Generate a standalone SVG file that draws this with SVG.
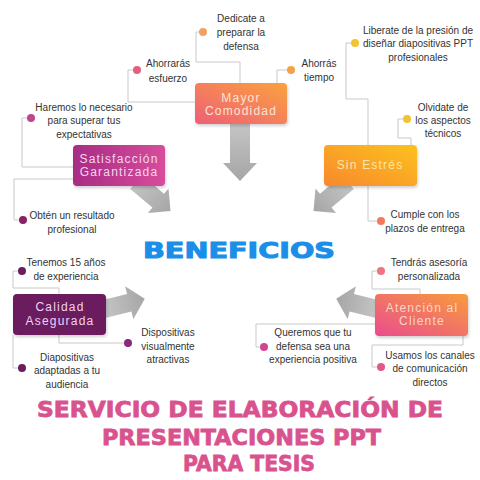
<svg xmlns="http://www.w3.org/2000/svg" width="480" height="480" viewBox="0 0 480 480">
<defs>
<linearGradient id="gMayor" x1="0" y1="1" x2="1" y2="0"><stop offset="0" stop-color="#ef5f78"/><stop offset="1" stop-color="#f9a23e"/></linearGradient>
<linearGradient id="gSat" x1="0" y1="0" x2="1" y2="0"><stop offset="0" stop-color="#a72c85"/><stop offset="1" stop-color="#d84c9c"/></linearGradient>
<linearGradient id="gSin" x1="0" y1="1" x2="1" y2="0"><stop offset="0" stop-color="#f8882e"/><stop offset="1" stop-color="#fcc21e"/></linearGradient>
<linearGradient id="gAte" x1="0" y1="1" x2="1" y2="0"><stop offset="0" stop-color="#ea4c8e"/><stop offset="1" stop-color="#f89c3c"/></linearGradient>
<linearGradient id="gArrow" x1="0" y1="0" x2="1" y2="0"><stop offset="0" stop-color="#c4c4c4"/><stop offset="1" stop-color="#a6a6a6"/></linearGradient>
<filter id="sh" x="-10%" y="-10%" width="130%" height="140%"><feDropShadow dx="1" dy="2" stdDeviation="1.5" flood-color="#000" flood-opacity="0.18"/></filter>
</defs>
<style>
.leaf{font-family:"Liberation Sans",Arial,sans-serif;font-size:10px;fill:#333;text-anchor:middle}
.lbl{font-family:"Liberation Sans",Arial,sans-serif;font-size:12px;text-anchor:middle;letter-spacing:1.2px}
.ln{fill:none;stroke:#c9c9c9;stroke-width:1}
.arrow{fill:url(#gArrow)}
</style>
<rect width="480" height="480" fill="#ffffff"/>

<g id="connectors">
<path class="ln" d="M199,32 H196 V62 H240 V83"/>
<path class="ln" d="M133,70 H128 V102 H195"/>
<path class="ln" d="M288,70 H277 V83"/>
<path class="ln" d="M27,118 H22 V167 H73"/>
<path class="ln" d="M73,179 H14 V220 H19"/>
<path class="ln" d="M351,43 H346 V99 H368 V145"/>
<path class="ln" d="M403,119 H398 V138 H411 V145"/>
<path class="ln" d="M368,186 V221 H377"/>
<path class="ln" d="M18,271 H13 V288 H59 V294"/>
<path class="ln" d="M59,335 V343 H124"/>
<path class="ln" d="M13,335 V368 H18"/>
<path class="ln" d="M377,271 H372 V289 H420 V294"/>
<path class="ln" d="M375,324 H256 V347 H260"/>
<path class="ln" d="M463,336 V345 H372 V367 H377"/>
</g>

<g id="arrows">
<polygon class="arrow" points="0,-10 39,-10 39,-17 57,0 39,17 39,10 0,10" transform="translate(240,124) rotate(90)"/>
<polygon class="arrow" points="0,-9 29,-9 29,-16 45,0 29,16 29,9 0,9" transform="translate(136,182) rotate(40)"/>
<polygon class="arrow" points="0,-9 29,-9 29,-16 45,0 29,16 29,9 0,9" transform="translate(348,182) rotate(140)"/>
<polygon class="arrow" points="0,-9 26,-9 26,-17 42,0 26,17 26,9 0,9" transform="translate(104,309) rotate(-14)"/>
<polygon class="arrow" points="0,-9 26,-9 26,-17 42,0 26,17 26,9 0,9" transform="translate(377,309) rotate(-166)"/>
</g>

<g id="mayor-comodidad">
<rect x="195" y="83" width="92" height="41" rx="4" fill="url(#gMayor)" filter="url(#sh)"/>
<text class="lbl" fill="#fde3d3"><tspan x="241" y="101.5">Mayor</tspan><tspan x="241" y="114.5">Comodidad</tspan></text>
</g>
<g id="satisfaccion">
<rect x="73" y="145" width="92" height="41" rx="4" fill="url(#gSat)" filter="url(#sh)"/>
<text class="lbl" fill="#f8d4ee"><tspan x="119" y="163">Satisfacción</tspan><tspan x="119" y="176">Garantizada</tspan></text>
</g>
<g id="sin-estres">
<rect x="324" y="145" width="93" height="41" rx="4" fill="url(#gSin)" filter="url(#sh)"/>
<text class="lbl" fill="#fde6a8" x="370" y="169">Sin Estrés</text>
</g>
<g id="calidad">
<rect x="13" y="294" width="93" height="41" rx="4" fill="#6b1b5f" filter="url(#sh)"/>
<text class="lbl" fill="#f2d2f0"><tspan x="60" y="311">Calidad</tspan><tspan x="60" y="325">Asegurada</tspan></text>
</g>
<g id="atencion">
<rect x="375" y="294" width="93" height="42" rx="4" fill="url(#gAte)" filter="url(#sh)"/>
<text class="lbl" fill="#fcd4c4"><tspan x="422" y="312">Atención al</tspan><tspan x="422" y="325">Cliente</tspan></text>
</g>

<g id="leaf-dedicate">
<circle cx="203" cy="32" r="4" fill="#f0a062"/>
<text class="leaf"><tspan x="241" y="22">Dedicate a</tspan><tspan x="241" y="36">preparar la</tspan><tspan x="241" y="50">defensa</tspan></text>
</g>
<g id="leaf-ahorraras">
<circle cx="137" cy="70" r="4" fill="#e2607e"/>
<text class="leaf"><tspan x="168" y="67">Ahorrarás</tspan><tspan x="168" y="82">esfuerzo</tspan></text>
</g>
<g id="leaf-ahorras">
<circle cx="291" cy="70" r="4" fill="#f5a04a"/>
<text class="leaf"><tspan x="319" y="67">Ahorrás</tspan><tspan x="319" y="81">tiempo</tspan></text>
</g>
<g id="leaf-haremos">
<circle cx="31" cy="118" r="4" fill="#c2438e"/>
<text class="leaf"><tspan x="84" y="111">Haremos lo necesario</tspan><tspan x="84" y="124">para superar tus</tspan><tspan x="84" y="138">expectativas</tspan></text>
</g>
<g id="leaf-obten">
<circle cx="23" cy="220" r="4" fill="#8a2262"/>
<text class="leaf"><tspan x="72" y="219">Obtén un resultado</tspan><tspan x="72" y="233">profesional</tspan></text>
</g>
<g id="leaf-liberate">
<circle cx="355" cy="43" r="4" fill="#f2c232"/>
<text class="leaf"><tspan x="418" y="34">Liberate de la presión de</tspan><tspan x="418" y="47">diseñar diapositivas PPT</tspan><tspan x="418" y="61">profesionales</tspan></text>
</g>
<g id="leaf-olvidate">
<circle cx="407" cy="119" r="4" fill="#f2c232"/>
<text class="leaf"><tspan x="443" y="111">Olvidate de</tspan><tspan x="443" y="124">los aspectos</tspan><tspan x="443" y="137">técnicos</tspan></text>
</g>
<g id="leaf-cumple">
<circle cx="381" cy="221" r="4" fill="#f07a5a"/>
<text class="leaf"><tspan x="425" y="218">Cumple con los</tspan><tspan x="425" y="232">plazos de entrega</tspan></text>
</g>
<g id="leaf-tenemos">
<circle cx="22" cy="271" r="4" fill="#6b1b5f"/>
<text class="leaf"><tspan x="66" y="266">Tenemos 15 años</tspan><tspan x="66" y="280">de experiencia</tspan></text>
</g>
<g id="leaf-dispositivas">
<circle cx="128" cy="343" r="4" fill="#8a2a7a"/>
<text class="leaf"><tspan x="168" y="336">Dispositivas</tspan><tspan x="168" y="350">visualmente</tspan><tspan x="168" y="363">atractivas</tspan></text>
</g>
<g id="leaf-diapositivas">
<circle cx="22" cy="368" r="4" fill="#6b1b5f"/>
<text class="leaf"><tspan x="67" y="361">Diapositivas</tspan><tspan x="67" y="374">adaptadas a tu</tspan><tspan x="67" y="388">audiencia</tspan></text>
</g>
<g id="leaf-tendras">
<circle cx="381" cy="271" r="4" fill="#ef7482"/>
<text class="leaf"><tspan x="429" y="266">Tendrás asesoría</tspan><tspan x="429" y="280">personalizada</tspan></text>
</g>
<g id="leaf-queremos">
<circle cx="264" cy="347" r="4" fill="#d2468f"/>
<text class="leaf"><tspan x="313" y="336">Queremos que tu</tspan><tspan x="313" y="350">defensa sea una</tspan><tspan x="313" y="363">experiencia positiva</tspan></text>
</g>
<g id="leaf-usamos">
<circle cx="381" cy="367" r="4" fill="#e2588a"/>
<text class="leaf"><tspan x="430" y="359">Usamos los canales</tspan><tspan x="430" y="372">de comunicación</tspan><tspan x="430" y="386">directos</tspan></text>
</g>

<g id="beneficios">
<text x="143" y="258" font-family="'DejaVu Sans',sans-serif" font-weight="bold" font-size="21" fill="#1b8fe8" stroke="#1b8fe8" stroke-width="1" textLength="192" lengthAdjust="spacingAndGlyphs">BENEFICIOS</text>
</g>
<g id="title" font-family="'DejaVu Sans',sans-serif" font-weight="bold" font-size="22" fill="#d9528e" stroke="#d9528e" stroke-width="0.8">
<text x="37" y="417" textLength="406" lengthAdjust="spacingAndGlyphs">SERVICIO DE ELABORACIÓN DE</text>
<text x="102" y="445" textLength="279" lengthAdjust="spacingAndGlyphs">PRESENTACIONES PPT</text>
<text x="183" y="471" textLength="132" lengthAdjust="spacingAndGlyphs">PARA TESIS</text>
</g>
</svg>
